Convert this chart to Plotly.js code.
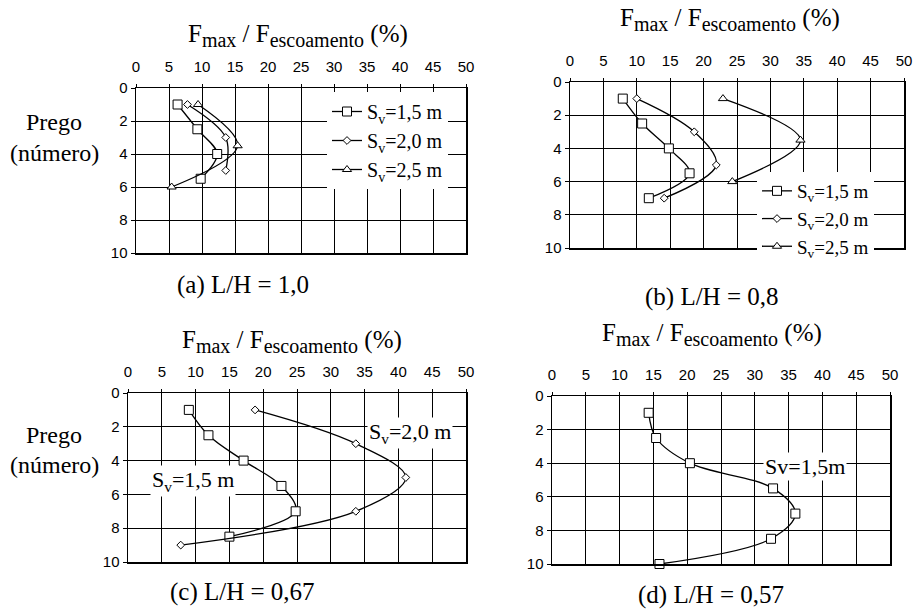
<!DOCTYPE html>
<html>
<head>
<meta charset="utf-8">
<script src="https://cdn.plot.ly/plotly-3.0.1.min.js"></script>
<style>
  html, body { margin: 0; padding: 0; background: #fff; }
  #chart { width: 917px; height: 609px; }
</style>
</head>
<body>
<div id="chart"></div>
<script>
"use strict";

// valeurs (Prego = numéro du prego, F = Fmax/Fescoamento en %)
var aPrego15 = [1, 2.5, 4, 5.5];
var aF15 = [6.3, 9.3, 12.3, 9.8];
var aPrego20 = [1, 3, 5];
var aF20 = [7.8, 13.6, 13.6];
var aPrego25 = [1, 3.5, 6];
var aF25 = [9.4, 15.4, 5.4];

var bPrego15 = [1, 2.5, 4, 5.5, 7];
var bF15 = [7.9, 10.8, 14.8, 17.9, 11.8];
var bPrego20 = [1, 3, 5, 7];
var bF20 = [10.0, 18.6, 21.9, 14.1];
var bPrego25 = [1, 3.5, 6];
var bF25 = [22.9, 34.5, 24.3];

var cPrego15 = [1, 2.5, 4, 5.5, 7, 8.5];
var cF15 = [9.0, 11.9, 17.1, 22.7, 24.8, 15.0];
var cPrego20 = [1, 3, 5, 7, 9];
var cF20 = [18.8, 33.7, 41.1, 33.7, 7.8];

var dPrego15 = [1, 2.5, 4, 5.5, 7, 8.5, 10];
var dF15 = [14.3, 15.4, 20.4, 32.7, 36.0, 32.4, 15.9];

var legendLabels = ["S<sub>v</sub>=1,5 m", "S<sub>v</sub>=2,0 m", "S<sub>v</sub>=2,5 m"];
var xTicks = [0, 5, 10, 15, 20, 25, 30, 35, 40, 45, 50];
var yTicks = [0, 2, 4, 6, 8, 10];

var W = 917, H = 609;
function px(x) { return x / W; }
function py(y) { return 1 - y / H; }

var serif = '"Liberation Serif", "Times New Roman", serif';
var sans = '"Liberation Sans", Arial, sans-serif';

var symbols = {
  "15": {symbol: "square", size: 9},
  "20": {symbol: "diamond", size: 6},
  "25": {symbol: "triangle-up", size: 8}
};

function serie(x, y, key, ax, name, legend) {
  var s = symbols[key];
  return {
    type: "scatter",
    mode: "lines+markers",
    x: x,
    y: y,
    xaxis: "x" + ax,
    yaxis: "y" + ax,
    name: name,
    showlegend: !!legend,
    legend: legend || "legend",
    line: {color: "#000", width: 1.3, shape: "spline", smoothing: 1},
    marker: {symbol: s.symbol, size: s.size, color: "#fff", line: {color: "#000", width: 1}},
    cliponaxis: false
  };
}

var data = [
  serie(aF15, aPrego15, "15", "", legendLabels[0], "legend"),
  serie(aF20, aPrego20, "20", "", legendLabels[1], "legend"),
  serie(aF25, aPrego25, "25", "", legendLabels[2], "legend"),
  serie(bF15, bPrego15, "15", "2", legendLabels[0], "legend2"),
  serie(bF20, bPrego20, "20", "2", legendLabels[1], "legend2"),
  serie(bF25, bPrego25, "25", "2", legendLabels[2], "legend2"),
  serie(cF15, cPrego15, "15", "3"),
  serie(cF20, cPrego20, "20", "3"),
  serie(dF15, dPrego15, "15", "4")
];

function xax(l, r, anchor) {
  return {
    domain: [px(l), px(r)], anchor: anchor, side: "top",
    range: [0, 50], tickvals: xTicks, ticks: "outside", ticklen: 3, tickcolor: "#000",
    ticklabelstandoff: 6,
    showgrid: true, gridcolor: "#000", gridwidth: 1, zeroline: false,
    showline: true, mirror: true, linecolor: "#000", linewidth: 1.5,
    tickfont: {family: sans, size: 15, color: "#000"}, fixedrange: true
  };
}
function yax(t, b, anchor) {
  return {
    domain: [py(b), py(t)], anchor: anchor,
    range: [10, 0], tickvals: yTicks, ticks: "outside", ticklen: 4, tickcolor: "#000",
    showgrid: true, gridcolor: "#000", gridwidth: 1, zeroline: false,
    showline: true, mirror: true, linecolor: "#000", linewidth: 1.5,
    tickfont: {family: sans, size: 15, color: "#000"}, fixedrange: true
  };
}

var titre = "F<sub><span style='font-size:20px'>max</span></sub> / F<sub><span style='font-size:20px'>escoamento</span></sub> (%)";
function texte(x, y, t, size, bg) {
  return {
    xref: "paper", yref: "paper", x: px(x), y: py(y), text: t, showarrow: false,
    xanchor: "center", yanchor: "middle",
    font: {family: serif, size: size, color: "#000"},
    bgcolor: bg || "rgba(0,0,0,0)"
  };
}

var layout = {
  width: W, height: H,
  margin: {l: 0, r: 0, t: 0, b: 0},
  paper_bgcolor: "#fff", plot_bgcolor: "#fff",
  showlegend: true,
  xaxis: xax(136, 466, "y"), yaxis: yax(88, 253, "x"),
  xaxis2: xax(570, 904, "y2"), yaxis2: yax(82, 248, "x2"),
  xaxis3: xax(128, 466, "y3"), yaxis3: yax(393, 562, "x3"),
  xaxis4: xax(552, 890, "y4"), yaxis4: yax(396, 564, "x4"),
  legend: {
    x: px(327), y: py(92), xanchor: "left", yanchor: "top",
    bgcolor: "#fff", borderwidth: 0, tracegroupgap: 0, itemwidth: 30,
    font: {family: serif, size: 20, color: "#000"}
  },
  legend2: {
    x: px(757), y: py(172), xanchor: "left", yanchor: "top",
    bgcolor: "#fff", borderwidth: 0, tracegroupgap: 0, itemwidth: 30,
    font: {family: serif, size: 19, color: "#000"}
  },
  annotations: [
    texte(298, 35, titre, 25),
    texte(730, 20, titre, 25),
    texte(292, 341, titre, 25),
    texte(712, 334, titre, 25),
    texte(54, 122, "Prego", 24),
    texte(54, 153, "(número)", 24),
    texte(54, 435, "Prego", 24),
    texte(54, 465, "(número)", 24),
    texte(243, 285, "(a) L/H = 1,0", 25),
    texte(712, 297, "(b) L/H = 0,8", 25),
    texte(242, 592, "(c) L/H = 0,67", 25),
    texte(711, 595, "(d) L/H = 0,57", 25),
    texte(410, 433, "S<sub>v</sub>=2,0 m", 22, "#fff"),
    texte(193, 481, "S<sub>v</sub>=1,5 m", 22, "#fff"),
    texte(805, 466, "Sv=1,5m", 22, "#fff")
  ]
};

Plotly.newPlot("chart", data, layout, {displayModeBar: false, staticPlot: true});
</script>
</body>
</html>
